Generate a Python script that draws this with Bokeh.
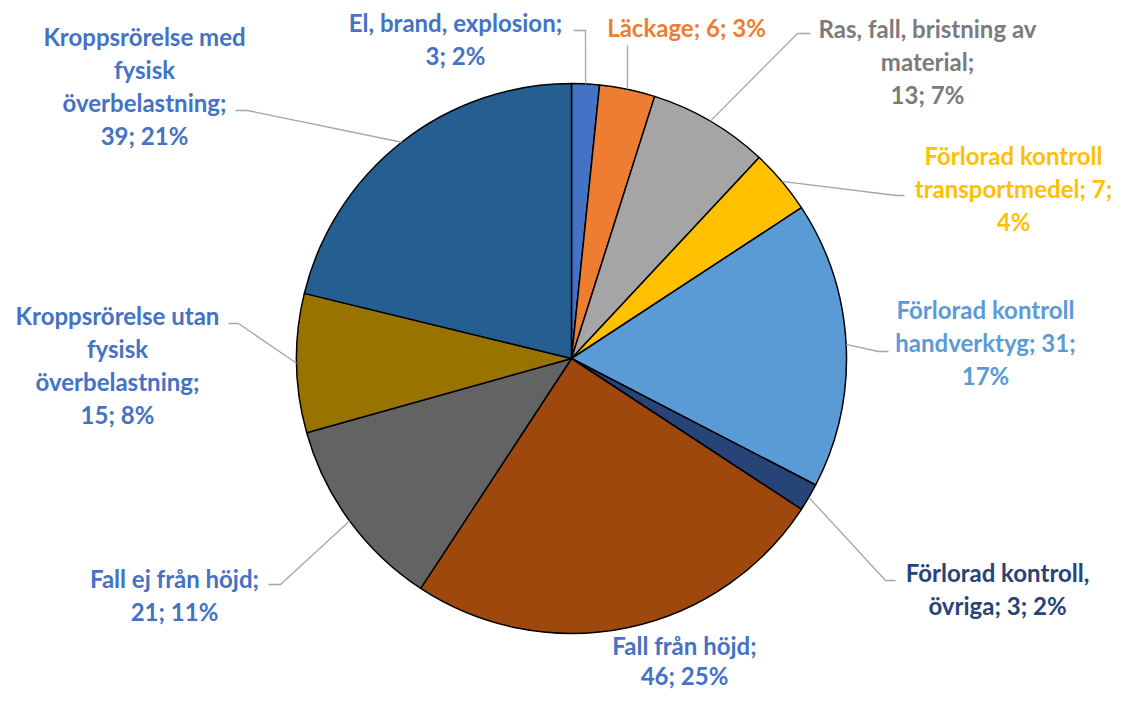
import math
from bokeh.plotting import figure
from bokeh.models import Range1d
from bokeh.core.properties import value
from bokeh.embed import file_html
from bokeh.resources import INLINE

# ---------------- data ----------------
categories = [
    "El, brand, explosion",
    "Läckage",
    "Ras, fall, bristning av material",
    "Förlorad kontroll transportmedel",
    "Förlorad kontroll handverktyg",
    "Förlorad kontroll, övriga",
    "Fall från höjd",
    "Fall ej från höjd",
    "Kroppsrörelse utan fysisk överbelastning",
    "Kroppsrörelse med fysisk överbelastning",
]
counts = [3, 6, 13, 7, 31, 3, 46, 21, 15, 39]

# ---------------- styles / layout ----------------
slice_colors = ["#4472C4", "#ED7D31", "#A5A5A5", "#FFC000", "#5B9BD5",
                "#264478", "#9E480E", "#636363", "#997300", "#255E91"]
label_colors = ["#4472C4", "#ED7D31", "#7B7B7B", "#FFC000", "#5B9BD5",
                "#264478", "#4472C4", "#4472C4", "#4472C4", "#4472C4"]
# words per line of each label
wraps = [[3, 2], [3], [4, 1, 2], [2, 2, 1], [2, 2, 1], [2, 3], [3, 2], [4, 2], [2, 1, 1, 2], [2, 1, 1, 2]]
# label centre (x) and first line middle (y), picture pixels
label_pos = [(455, 22), (686, 27), (927, 28), (1013, 155), (985, 309),
             (997, 572), (684, 645), (174, 578), (117, 315), (144, 36)]
label_gap = [33, 33, 33, 33, 33, 33, 30, 33, 33, 33]
# leader line points after the slice edge point, picture pixels
leaders = [
    [(585, 30), (573, 30)],
    [(627, 45)],
    [(797, 33), (810, 33)],
    [(896, 195), (904, 195)],
    [(878, 351), (888, 351)],
    [(885, 580), (895, 580)],
    [],
    [(280, 584), (268, 584)],
    [(238, 323), (228, 323)],
    [(247, 110), (235, 110)],
]

W, H = 1116, 693
CX, CY, R = 571, 358, 275
FONT = "Lato"
FONT_SIZE = "24px"


def px(X, Y):
    return X, H - Y


p = figure(width=W, height=H, output_backend="svg", toolbar_location=None,
           x_axis_type=None, y_axis_type=None,
           x_range=Range1d(0, W), y_range=Range1d(0, H),
           min_border=0, outline_line_color=None)
p.grid.visible = False

total = sum(counts)
cx, cy = px(CX, CY)
cum = 0
starts, ends, mids = [], [], []
for c in counts:
    a0 = cum / total * 2 * math.pi
    cum += c
    a1 = cum / total * 2 * math.pi
    starts.append(math.pi / 2 - a0)
    ends.append(math.pi / 2 - a1)
    mids.append((a0 + a1) / 2)

p.wedge(x=cx, y=cy, radius=R, start_angle=starts, end_angle=ends,
        direction="clock", fill_color=slice_colors, line_color="black",
        line_width=1.5)

# leader lines
for i, pts in enumerate(leaders):
    if not pts:
        continue
    ex = CX + R * math.sin(mids[i])
    ey = CY - R * math.cos(mids[i])
    xs, ys = [], []
    for (X, Y) in [(ex, ey)] + pts:
        x, y = px(X, Y)
        xs.append(x)
        ys.append(y)
    p.line(xs, ys, line_color="#A6A6A6", line_width=1.3)

# labels
for i, name in enumerate(categories):
    pct = round(100 * counts[i] / total)
    words = f"{name}; {counts[i]}; {pct}%".split(" ")
    lines = []
    k = 0
    for n in wraps[i]:
        lines.append(" ".join(words[k:k + n]))
        k += n
    X, Y = label_pos[i]
    for j, ln in enumerate(lines):
        x, y = px(X, Y + j * label_gap[i])
        p.text(x=[x], y=[y], text=[ln], text_align="center",
               text_baseline="middle", text_font=value(FONT),
               text_font_style="bold", text_font_size=FONT_SIZE,
               text_color=label_colors[i])

open("out.html", "w").write(file_html(p, INLINE))
